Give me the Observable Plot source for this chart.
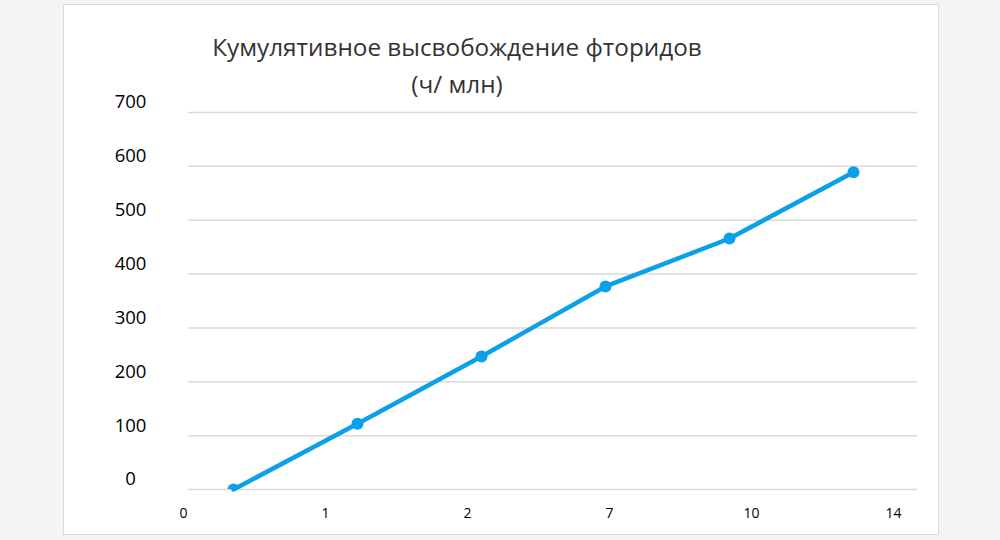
<!DOCTYPE html>
<html><head><meta charset="utf-8">
<script src="https://cdn.jsdelivr.net/npm/d3@7"></script>
<script src="https://cdn.jsdelivr.net/npm/@observablehq/plot@0.6"></script>
<style>
body{margin:0;background:#f4f4f4;font-family:"Open Sans",sans-serif;}
#wrap{position:relative;width:1000px;height:540px;overflow:hidden;background:#f4f4f4;}
#panel{position:absolute;left:63px;top:4px;width:876px;height:531px;background:#fff;border:1.5px solid #d9d9d9;box-sizing:border-box;}
#title{position:absolute;left:0;top:28px;width:914px;text-align:center;font-size:24.3px;line-height:37px;color:#333;}
.layer{position:absolute;left:0;}
</style></head>
<body>
<div id="wrap">
  <div id="panel"></div>
  <div id="title">Кумулятивное высвобождение фторидов<br>(ч/ млн)</div>
  <div id="main" class="layer" style="top:0"></div>
  <div id="xax" class="layer" style="top:479px"></div>
</div>
<script>
const days = ["0", "1", "2", "7", "10", "14"];
const release = [0, 122, 247, 377, 466, 589];
const yTicks = [0, 100, 200, 300, 400, 500, 600, 700];

const data = days.map((d, i) => ({day: d, value: release[i]}));
const blue = "#0ba0e8";

const main = Plot.plot({
  width: 1000, height: 540,
  marginLeft: 188, marginRight: 83, marginTop: 112, marginBottom: 51,
  style: {background: "transparent", fontFamily: "Open Sans", color: "#000", overflow: "visible"},
  x: {type: "point", domain: days, padding: 0, insetLeft: 43, insetRight: 62, axis: null},
  y: {domain: [0, 700]},
  marks: [
    Plot.gridY(yTicks, {stroke: "#d9d9d9", strokeOpacity: 1, strokeWidth: 1.5}),
    Plot.axisY(yTicks, {tickSize: 0, tickPadding: 58, textAnchor: "middle", dy: -10, fontSize: 18.5, label: null, fill: "#000"}),
    Plot.line(data, {x: "day", y: "value", stroke: blue, strokeWidth: 4.5}),
    Plot.dot(data, {x: "day", y: "value", fill: blue, r: 6, clip: "frame"})
  ]
});
document.getElementById("main").appendChild(main);

const xax = Plot.plot({
  width: 1000, height: 50,
  marginLeft: 183, marginRight: 107, marginTop: 10, marginBottom: 40,
  style: {background: "transparent", fontFamily: "Open Sans", color: "#000", overflow: "visible"},
  x: {type: "point", domain: days, padding: 0},
  marks: [
    Plot.axisX({tickSize: 0, tickPadding: 19, fontSize: 14, label: null, fill: "#000"})
  ]
});
document.getElementById("xax").appendChild(xax);
</script>
</body></html>
